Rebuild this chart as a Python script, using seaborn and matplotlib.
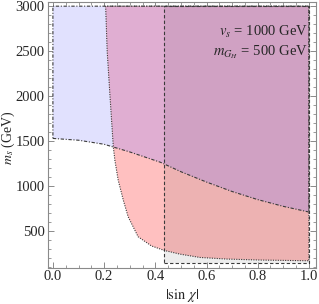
import matplotlib
matplotlib.use("Agg")
import matplotlib.pyplot as plt
import seaborn as sns
import pandas as pd
from matplotlib.patches import Polygon, Rectangle
from matplotlib.ticker import MultipleLocator

# lower edge of the blue (dash-dot) region
blue_x = [0.0, 0.1, 0.2, 0.3, 0.42, 0.5, 0.6, 0.7, 0.8, 0.9, 1.0]
blue_y = [1530, 1510, 1465, 1380, 1265, 1160, 1045, 940, 850, 775, 712]

# left / lower edge of the red (dotted) region
red_x = [0.206, 0.212, 0.223, 0.236, 0.242, 0.255, 0.275, 0.294, 0.333, 0.385,
         0.435, 0.496, 0.574, 0.68, 0.81, 1.0]
red_y = [3000, 2500, 2000, 1437, 1289, 1067, 844, 659, 437, 335,
         285, 244, 207, 189, 178, 170]

# grey (dashed) box
grey_xmin = 0.435
grey_ymin = 145
x_min, x_max = 0.0, 1.0
y_top = 3000

blue_c = (225 / 255, 225 / 255, 254 / 255)
red_c = (255 / 255, 192 / 255, 192 / 255)
purple_c = (224 / 255, 174 / 255, 210 / 255)
line_c = '#3a3a3a'

sns.set_theme(style="ticks")
plt.rcParams['font.family'] = ['Liberation Serif', 'DejaVu Serif']
plt.rcParams['mathtext.fontset'] = 'stix'

fig, ax = plt.subplots(figsize=(3.19, 3.04), dpi=100)
fig.subplots_adjust(left=0.149, right=0.99, bottom=0.12, top=0.993)

blue_poly = list(zip(blue_x, blue_y)) + [(x_max, y_top), (x_min, y_top)]
red_poly = list(zip(red_x, red_y)) + [(x_max, y_top)]

blue = Polygon(blue_poly, closed=True, fc=blue_c, ec='none', zorder=1)
ax.add_patch(blue)
red = Polygon(red_poly, closed=True, fc=red_c, ec='none', zorder=2)
ax.add_patch(red)
# overlap of both regions
purple = Polygon(red_poly, closed=True, fc=purple_c, ec='none', zorder=3)
ax.add_patch(purple)
purple.set_clip_path(blue)

grey = Rectangle((grey_xmin, grey_ymin), x_max - grey_xmin, y_top - grey_ymin,
                 fc=(0, 0, 0, 0.07), ec='none', zorder=4)
ax.add_patch(grey)

# outlines
blue_edge = pd.DataFrame({'x': blue_x + [x_max, x_min, x_min],
                          'y': blue_y + [y_top, y_top, blue_y[0]]})
red_edge = pd.DataFrame({'x': red_x + [x_max, red_x[0]],
                         'y': red_y + [y_top, y_top]})
grey_edge = pd.DataFrame({'x': [grey_xmin, x_max, x_max, grey_xmin, grey_xmin],
                          'y': [grey_ymin, grey_ymin, y_top, y_top, grey_ymin]})

sns.lineplot(data=blue_edge, x='x', y='y', sort=False, estimator=None, ax=ax,
             color=line_c, lw=0.8, linestyle=(0, (3, 1.5, 1, 1.5)), zorder=5)
sns.lineplot(data=red_edge, x='x', y='y', sort=False, estimator=None, ax=ax,
             color=line_c, lw=0.8, linestyle=(0, (1, 1.2)), zorder=5)
sns.lineplot(data=grey_edge, x='x', y='y', sort=False, estimator=None, ax=ax,
             color=line_c, lw=0.8, linestyle=(0, (3, 2)), zorder=5)

ax.set_xlim(-0.021, 1.027)
ax.set_ylim(95, 3045)
ax.xaxis.set_major_locator(MultipleLocator(0.2))
ax.xaxis.set_minor_locator(MultipleLocator(0.05))
ax.yaxis.set_major_locator(MultipleLocator(500))
ax.yaxis.set_minor_locator(MultipleLocator(100))
ax.xaxis.set_major_formatter(matplotlib.ticker.FormatStrFormatter('%.1f'))

ax.tick_params(which='both', direction='in', top=True, right=True,
               color='#8a8a8a', labelsize=10.5, pad=2)
ax.tick_params(which='major', length=4, width=0.7)
ax.tick_params(which='minor', length=2, width=0.6)
for s in ax.spines.values():
    s.set_color('#8a8a8a')
    s.set_linewidth(0.8)

ax.set_xlabel(r'$|\sin\,\chi|$', fontsize=10.5, labelpad=2.5)
ax.set_ylabel(r'$m_s$ (GeV)', fontsize=10)
ax.yaxis.set_label_coords(-0.112, 0.49)

ax.text(0.995, 2710, r'$v_s$ = 1000 GeV', ha='right', va='center', fontsize=10.5, zorder=6)
ax.text(0.995, 2490, r'$m_{G_H}$ = 500 GeV', ha='right', va='center', fontsize=10.5, zorder=6)

fig.savefig('out.png', dpi=100)
